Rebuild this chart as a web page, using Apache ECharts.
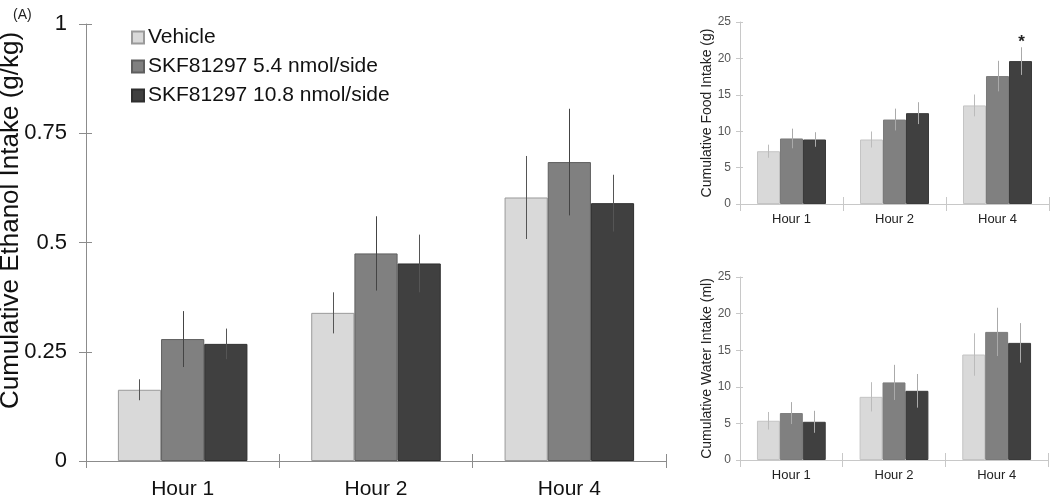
<!DOCTYPE html>
<html><head><meta charset="utf-8">
<script src="https://cdn.jsdelivr.net/npm/echarts@6/dist/echarts.min.js"></script>
<style>html,body{margin:0;padding:0;background:#fff}#c{width:1050px;height:498px}</style>
</head><body><div id="c"></div>
<script>
const categories = ['Hour 1', 'Hour 2', 'Hour 4'];
const seriesNames = ['Vehicle', 'SKF81297 5.4 nmol/side', 'SKF81297 10.8 nmol/side'];
// Ethanol (g/kg)
const ethVehicle = [0.163, 0.339, 0.603];
const ethLow = [0.279, 0.475, 0.684];
const ethHigh = [0.268, 0.452, 0.590];
const ethVehicleErr = [0.024, 0.047, 0.095];
const ethLowErr = [0.064, 0.085, 0.122];
const ethHighErr = [0.035, 0.066, 0.065];
const ethTicks = [0, 0.25, 0.5, 0.75, 1];
// Food (g)
const foodVehicle = [7.25, 8.86, 13.54];
const foodLow = [9.0, 11.6, 17.57];
const foodHigh = [8.86, 12.48, 19.63];
const foodVehicleErr = [0.9, 1.1, 1.5];
const foodLowErr = [1.35, 1.5, 2.1];
const foodHighErr = [1.0, 1.5, 1.9];
const foodSig = ['', '', '*'];
// Water (ml)
const waterVehicle = [5.36, 8.63, 14.41];
const waterLow = [6.41, 10.6, 17.5];
const waterHigh = [5.22, 9.45, 16.0];
const waterVehicleErr = [1.2, 2.0, 2.9];
const waterLowErr = [1.5, 2.4, 3.3];
const waterHighErr = [1.5, 2.3, 2.7];
const smallTicks = [0, 5, 10, 15, 20, 25];

const FONT = 'Liberation Sans, Arial, sans-serif';
const fills = ['#d9d9d9', '#808080', '#404040'];
const mainBorders = ['#9a9a9a', '#5e5e5e', '#2e2e2e'];
const smallBorders = ['#c4c4c4', '#7a7a7a', '#3a3a3a'];
const GAP = 0.33;

const chart = echarts.init(document.getElementById('c'));

function errSeries(name, xi, yi, vals, errs, slot, color, sig, z) {
  return {
    type: 'custom', name: name + ' err', xAxisIndex: xi, yAxisIndex: yi, z: z || 10,
    silent: true,
    data: vals.map((v, i) => [i, v, errs[i], sig ? sig[i] : '']),
    renderItem: function (params, api) {
      const ci = api.value(0), v = api.value(1), e = api.value(2);
      const base = api.coord([ci, v]);
      const cw = api.size([1, 0])[0];
      const bw = cw * (1 - GAP) / 3;
      const x = Math.round(base[0] + (slot - 1) * bw) + 0.5;
      const top = api.coord([ci, v + e])[1];
      const bot = api.coord([ci, v - e])[1];
      const children = [{ type: 'line', shape: { x1: x, y1: top, x2: x, y2: bot }, style: { stroke: color, lineWidth: 1 } }];
      const s = sig && sig[ci];
      if (s) {
        children.push({ type: 'text', style: { text: s, x: x, y: top - 5, align: 'center', verticalAlign: 'middle', font: 'bold 17px ' + FONT, fill: '#222' } });
      }
      return { type: 'group', children: children };
    }
  };
}
function barSeries(name, xi, yi, vals, slot, borders) {
  return {
    type: 'bar', name: name, xAxisIndex: xi, yAxisIndex: yi, data: vals,
    barGap: '0%', barCategoryGap: (GAP * 100) + '%',
    itemStyle: { color: fills[slot], borderColor: borders[slot], borderWidth: 1 },
    emphasis: { disabled: true }
  };
}

function catAxes(gi, lblSize, lblColor, lineColor, lblMargin) {
  return [{
    type: 'category', gridIndex: gi, data: categories,
    axisLine: { lineStyle: { color: lineColor, width: 1 } },
    axisTick: { show: true, length: 7, lineStyle: { color: lineColor } },
    axisLabel: { fontSize: lblSize, color: lblColor, fontFamily: FONT, margin: lblMargin }
  }, {
    type: 'category', gridIndex: gi, data: categories, position: 'bottom',
    axisLine: { show: false },
    axisTick: { show: true, inside: true, length: 7, lineStyle: { color: lineColor } },
    axisLabel: { show: false }
  }];
}
function valAxes(gi, ticks, name, nameSize, nameGap, lblSize, lblColor, lineColor, tickLen, nameColor, lblMargin, moveOverlap, namePad) {
  const mn = ticks[0], mx = ticks[ticks.length - 1], iv = ticks[1] - ticks[0];
  return [{
    type: 'value', gridIndex: gi, min: mn, max: mx, interval: iv,
    name: name, nameLocation: 'middle', nameGap: nameGap, nameMoveOverlap: moveOverlap,
    nameTextStyle: { fontSize: nameSize, fontFamily: FONT, color: nameColor, padding: namePad || 0 },
    splitLine: { show: false },
    axisLine: { show: true, lineStyle: { color: lineColor } },
    axisTick: { show: true, length: tickLen, lineStyle: { color: lineColor } },
    axisLabel: { fontSize: lblSize, color: lblColor, fontFamily: FONT, margin: lblMargin }
  }, {
    type: 'value', gridIndex: gi, min: mn, max: mx, interval: iv, position: 'left',
    splitLine: { show: false }, axisLine: { show: false },
    axisTick: { show: true, inside: true, length: Math.max(3, tickLen - 1), lineStyle: { color: lineColor } },
    axisLabel: { show: false }
  }];
}

const option = {
  animation: false,
  backgroundColor: '#fff',
  textStyle: { fontFamily: FONT },
  title: { text: '(A)', left: 8, top: 3, textStyle: { fontSize: 14, fontWeight: 'normal', color: '#222', fontFamily: FONT } },
  legend: {
    data: seriesNames, orient: 'vertical', left: 126, top: 21,
    icon: 'rect', itemWidth: 12, itemHeight: 12, itemGap: 6,
    textStyle: { fontSize: 21, color: '#111', fontFamily: FONT, lineHeight: 23, padding: [0, 0, 0, -1] },
    selectedMode: false
  },
  grid: [
    { left: 86, right: 384, top: 24, bottom: 37, outerBoundsMode: 'none', containLabel: false },
    { left: 740, right: 1, top: 22, bottom: 294, outerBoundsMode: 'none', containLabel: false },
    { left: 740, right: 2, top: 277, bottom: 38, outerBoundsMode: 'none', containLabel: false }
  ],
  xAxis: [].concat(
    catAxes(0, 21, '#111', '#8c8c8c', 18),
    catAxes(1, 13, '#222', '#c8c8c8', 9),
    catAxes(2, 13, '#222', '#c8c8c8', 9)
  ),
  yAxis: [].concat(
    valAxes(0, ethTicks, 'Cumulative Ethanol Intake (g/kg)', 26, 62, 22, '#111', '#8c8c8c', 7, '#111', 19, false, [0, 0, 0, 44]),
    valAxes(1, smallTicks, 'Cumulative Food Intake (g)', 14, 24, 12, '#555', '#c8c8c8', 4, '#222', 9, true),
    valAxes(2, smallTicks, 'Cumulative Water Intake (ml)', 14, 24, 12, '#555', '#c8c8c8', 4, '#222', 9, true)
  ),
  series: [
    barSeries(seriesNames[0], 0, 0, ethVehicle, 0, mainBorders),
    barSeries(seriesNames[1], 0, 0, ethLow, 1, mainBorders),
    barSeries(seriesNames[2], 0, 0, ethHigh, 2, mainBorders),
    errSeries('eth0', 0, 0, ethVehicle, ethVehicleErr, 0, '#555'),
    errSeries('eth1', 0, 0, ethLow, ethLowErr, 1, '#444'),
    errSeries('eth2', 0, 0, ethHigh, ethHighErr, 2, '#555'),

    barSeries(seriesNames[0], 2, 2, foodVehicle, 0, smallBorders),
    barSeries(seriesNames[1], 2, 2, foodLow, 1, smallBorders),
    barSeries(seriesNames[2], 2, 2, foodHigh, 2, smallBorders),
    errSeries('food0', 2, 2, foodVehicle, foodVehicleErr, 0, '#bbbbbb'),
    errSeries('food1', 2, 2, foodLow, foodLowErr, 1, '#aaaaaa'),
    errSeries('food2', 2, 2, foodHigh, foodHighErr, 2, '#aaaaaa', foodSig),

    barSeries(seriesNames[0], 4, 4, waterVehicle, 0, smallBorders),
    barSeries(seriesNames[1], 4, 4, waterLow, 1, smallBorders),
    barSeries(seriesNames[2], 4, 4, waterHigh, 2, smallBorders),
    errSeries('water0', 4, 4, waterVehicle, waterVehicleErr, 0, '#bbbbbb'),
    errSeries('water1', 4, 4, waterLow, waterLowErr, 1, '#aaaaaa'),
    errSeries('water2', 4, 4, waterHigh, waterHighErr, 2, '#aaaaaa')
  ]
};
chart.setOption(option);
</script>
</body></html>
